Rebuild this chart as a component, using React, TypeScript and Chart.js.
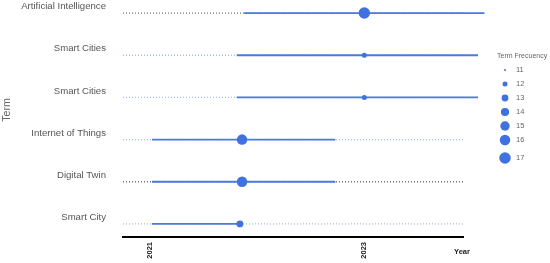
import React, { useEffect, useRef } from "react";
import { Chart, registerables } from "chart.js";

Chart.register(...registerables);

// ---- data ----
const terms = [
  "Artificial Intelligence",
  "Smart Cities",
  "Smart Cities",
  "Internet of Things",
  "Digital Twin",
  "Smart City",
];
const spanStart = [2021.88, 2021.81, 2021.81, 2021.02, 2021.02, 2021.02];
const spanEnd = [2024.12, 2024.06, 2024.06, 2022.73, 2022.73, 2021.84];
const medianYear = [2023.0, 2023.0, 2023.0, 2021.86, 2021.86, 2021.84];
const termFrequency = [17, 12, 12, 16, 16, 13];
const yearRange = [2020.75, 2023.92];
const yearTicks = [2021, 2023];
const legendFrequencies = [11, 12, 13, 14, 15, 16, 17];

// ---- styles ----
const FONT = "'Liberation Sans', Arial, sans-serif";
const dottedColors = ["#737373", "#a3bfe8", "#a3bfe8", "#a3bfe8", "#737373", "#a3bfe8"];
const SOLID = "#4a7bd8";
const POINT = "#3f72e0";

const radiusOf = (f: number) => Math.sqrt(1 + 5.3 * (f - 11));
const rowY = (i: number) => terms.length - 1 - i;

const overlayPlugin = {
  id: "overlay",
  afterDraw(chart: any) {
    const ctx = chart.ctx;
    ctx.save();
    // y title
    ctx.fillStyle = "#666";
    ctx.font = `10.7px ${FONT}`;
    ctx.textAlign = "center";
    ctx.textBaseline = "middle";
    ctx.translate(7, 110);
    ctx.rotate(-Math.PI / 2);
    ctx.fillText("Term", 0, 0);
    ctx.restore();

    ctx.save();
    // x title
    const xs = chart.scales.x;
    ctx.fillStyle = "#222";
    ctx.font = `bold 7.5px ${FONT}`;
    ctx.textAlign = "center";
    ctx.textBaseline = "middle";
    ctx.fillText("Year", xs.right - 1, 252);

    // legend
    ctx.fillStyle = "#666";
    ctx.font = `7px ${FONT}`;
    ctx.textAlign = "left";
    ctx.fillText("Term Frecuency", 497, 56);
    let y = 70;
    legendFrequencies.forEach((f, i) => {
      if (i > 0) y += i === legendFrequencies.length - 1 ? 18 : 14;
      ctx.beginPath();
      ctx.arc(505, y, radiusOf(f), 0, Math.PI * 2);
      ctx.fillStyle = POINT;
      ctx.fill();
      ctx.fillStyle = "#666";
      ctx.font = `7.5px ${FONT}`;
      ctx.fillText(String(f), 516, y);
    });
    ctx.restore();
  },
};

export default function App() {
  const ref = useRef<HTMLCanvasElement>(null);
  useEffect(() => {
    if (!ref.current) return;
    const dotted = terms.map((_, i) => ({
      type: "scatter" as const,
      showLine: true,
      data: [
        { x: yearRange[0], y: rowY(i) },
        { x: yearRange[1], y: rowY(i) },
      ],
      borderColor: dottedColors[i],
      borderWidth: 1.3,
      borderDash: [1, 2],
      pointRadius: 0,
      order: 2,
    }));
    const solid = terms.map((_, i) => ({
      type: "scatter" as const,
      showLine: true,
      data: [
        { x: spanStart[i], y: rowY(i) },
        { x: spanEnd[i], y: rowY(i) },
      ],
      borderColor: SOLID,
      borderWidth: 1.8,
      pointRadius: 0,
      clip: false,
      order: 1,
    }));
    const points = {
      type: "scatter" as const,
      data: terms.map((_, i) => ({ x: medianYear[i], y: rowY(i) })),
      pointRadius: termFrequency.map(radiusOf),
      backgroundColor: POINT,
      borderWidth: 0,
      clip: false,
      order: 0,
    };
    const chart = new Chart(ref.current, {
      type: "scatter",
      data: { datasets: [...dotted, ...solid, points] as any },
      options: {
        animation: false,
        responsive: false,
        layout: { autoPadding: false, padding: { left: 0, right: 87, top: 0, bottom: 0 } },
        plugins: { legend: { display: false }, tooltip: { enabled: false } },
        scales: {
          x: {
            type: "linear",
            min: yearRange[0],
            max: yearRange[1],
            grid: { display: false, drawTicks: false },
            border: { display: true, color: "#000", width: 2 },
            afterBuildTicks: (s: any) => {
              s.ticks = yearTicks.map((v) => ({ value: v }));
            },
            afterFit: (s: any) => {
              s.height = 26;
              s.paddingLeft = 0;
              s.paddingRight = 0;
            },
            ticks: {
              minRotation: 90,
              maxRotation: 90,
              padding: 5,
              color: "#222",
              font: { family: FONT, size: 7.5, weight: "bold" },
              callback: (v: any) => String(v),
            },
          },
          y: {
            type: "linear",
            min: -0.31,
            max: 5.31,
            grid: { display: false, drawTicks: false },
            border: { display: false },
            afterBuildTicks: (s: any) => {
              s.ticks = terms.map((_, i) => ({ value: rowY(i) }));
            },
            afterFit: (s: any) => {
              s.width = 123;
              s.paddingTop = 0;
              s.paddingBottom = 0;
            },
            ticks: {
              padding: 17,
              labelOffset: -6.5,
              color: "#555",
              font: { family: FONT, size: 9.6 },
              callback: (v: any) => terms[terms.length - 1 - Math.round(v)],
            },
          },
        },
      },
      plugins: [overlayPlugin],
    });
    return () => chart.destroy();
  }, []);
  return (
    <div style={{ position: "absolute", left: 0, top: 0, width: 550, height: 263 }}>
      <canvas ref={ref} width={550} height={263} style={{ display: "block" }} />
    </div>
  );
}
